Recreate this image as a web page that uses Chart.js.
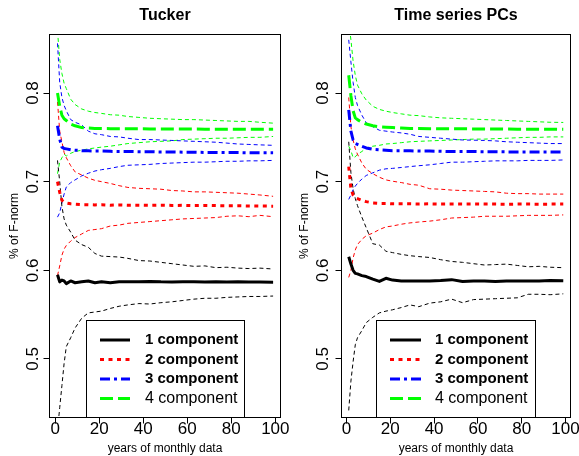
<!DOCTYPE html>
<html lang="en">

<head>
    <meta charset="UTF-8">
    <title>Tucker vs Time series PCs</title>
    <script src="https://cdn.jsdelivr.net/npm/chart.js"></script>
    <style>
        body { margin: 0; background: #fff; width: 579px; height: 456px; overflow: hidden; display: flex; }
        canvas { display: block; }
    </style>
</head>

<body>
    <canvas id="tuckerChart" width="290" height="456"></canvas>
    <canvas id="pcsChart" width="289" height="456"></canvas>

    <script>
        // years of monthly data used on the x axis
        const years = [1, 2, 3, 4, 5, 7, 9, 12, 15, 18, 21, 25, 29, 33, 38, 43, 48, 53, 58, 63, 68, 73, 78, 83, 88, 93, 99];
        const xTicks = [0, 20, 40, 60, 80, 100];
        const yTicks = [0.5, 0.6, 0.7, 0.8];
        const componentLabels = ['1 component', '2 component', '3 component', '4 component'];

        // Tucker panel: mean and upper / lower bands per number of components
        const tuckerMean1 = [0.595, 0.587, 0.589, 0.588, 0.585, 0.588, 0.586, 0.587, 0.588, 0.586, 0.587, 0.586, 0.587, 0.587, 0.587, 0.5875, 0.587, 0.5868, 0.587, 0.5872, 0.5868, 0.587, 0.5868, 0.587, 0.5868, 0.5867, 0.5865];
        const tuckerUp1 = [0.724, 0.700, 0.672, 0.658, 0.651, 0.643, 0.634, 0.629, 0.626, 0.619, 0.616, 0.6155, 0.615, 0.6135, 0.611, 0.6105, 0.609, 0.6075, 0.606, 0.6045, 0.605, 0.603, 0.6035, 0.6025, 0.602, 0.6025, 0.6015];
        const tuckerLo1 = [0.42, 0.445, 0.47, 0.495, 0.514, 0.524, 0.535, 0.546, 0.552, 0.553, 0.554, 0.557, 0.5595, 0.561, 0.5625, 0.562, 0.5635, 0.5645, 0.566, 0.5675, 0.5685, 0.5685, 0.5695, 0.570, 0.5705, 0.5705, 0.571];

        const tuckerMean2 = [0.700, 0.688, 0.679, 0.677, 0.676, 0.675, 0.6745, 0.674, 0.674, 0.6738, 0.674, 0.6735, 0.6738, 0.6735, 0.6735, 0.6733, 0.6735, 0.6732, 0.6733, 0.673, 0.6732, 0.673, 0.6728, 0.6728, 0.6726, 0.6725, 0.6724];
        const tuckerUp2 = [0.790, 0.757, 0.745, 0.733, 0.727, 0.718, 0.711, 0.7075, 0.704, 0.7015, 0.700, 0.698, 0.6955, 0.6935, 0.6925, 0.692, 0.6915, 0.690, 0.6895, 0.6885, 0.6885, 0.688, 0.6875, 0.687, 0.686, 0.685, 0.6835];
        const tuckerLo2 = [0.594, 0.605, 0.617, 0.624, 0.628, 0.633, 0.637, 0.641, 0.645, 0.646, 0.647, 0.650, 0.651, 0.653, 0.654, 0.655, 0.656, 0.657, 0.658, 0.6585, 0.659, 0.6595, 0.661, 0.6615, 0.6605, 0.662, 0.6605];

        const tuckerMean3 = [0.763, 0.748, 0.739, 0.7375, 0.737, 0.736, 0.7355, 0.735, 0.7348, 0.7345, 0.7345, 0.7342, 0.734, 0.734, 0.7338, 0.7338, 0.7335, 0.7335, 0.7333, 0.7333, 0.733, 0.733, 0.7328, 0.7328, 0.7326, 0.7325, 0.7325];
        const tuckerUp3 = [0.856, 0.812, 0.795, 0.786, 0.780, 0.770, 0.767, 0.764, 0.757, 0.754, 0.753, 0.751, 0.7505, 0.749, 0.7475, 0.7475, 0.747, 0.7465, 0.746, 0.7455, 0.745, 0.7445, 0.7435, 0.7425, 0.742, 0.7415, 0.741];
        const tuckerLo3 = [0.660, 0.665, 0.676, 0.686, 0.694, 0.699, 0.702, 0.7065, 0.7095, 0.712, 0.7135, 0.715, 0.717, 0.7185, 0.719, 0.7195, 0.7205, 0.721, 0.7215, 0.722, 0.722, 0.7225, 0.723, 0.723, 0.7235, 0.7235, 0.724];

        const tuckerMean4 = [0.800, 0.785, 0.775, 0.771, 0.769, 0.765, 0.763, 0.761, 0.7605, 0.760, 0.760, 0.7598, 0.7597, 0.7597, 0.7596, 0.7595, 0.7595, 0.7594, 0.7593, 0.7593, 0.7592, 0.7592, 0.7591, 0.7591, 0.759, 0.759, 0.759];
        const tuckerUp4 = [0.870, 0.838, 0.822, 0.811, 0.805, 0.793, 0.787, 0.782, 0.7795, 0.778, 0.777, 0.7755, 0.775, 0.7735, 0.7725, 0.7715, 0.771, 0.7705, 0.770, 0.770, 0.7695, 0.769, 0.7685, 0.768, 0.768, 0.767, 0.766];
        const tuckerLo4 = [0.709, 0.722, 0.727, 0.731, 0.729, 0.732, 0.734, 0.7355, 0.737, 0.738, 0.739, 0.740, 0.7415, 0.743, 0.744, 0.745, 0.7455, 0.746, 0.7475, 0.748, 0.7485, 0.749, 0.749, 0.7495, 0.750, 0.750, 0.751];

        // Time series PCs panel
        const pcsMean1 = [0.6153, 0.607, 0.600, 0.5966, 0.596, 0.594, 0.593, 0.590, 0.5875, 0.591, 0.589, 0.588, 0.588, 0.588, 0.588, 0.5885, 0.5895, 0.5875, 0.588, 0.588, 0.5875, 0.588, 0.588, 0.588, 0.588, 0.5885, 0.5883];
        const pcsUp1 = [0.745, 0.710, 0.692, 0.681, 0.673, 0.660, 0.648, 0.630, 0.6285, 0.6215, 0.620, 0.618, 0.6165, 0.6155, 0.6145, 0.612, 0.610, 0.609, 0.6075, 0.606, 0.6065, 0.607, 0.6055, 0.604, 0.6045, 0.6035, 0.603];
        const pcsLo1 = [0.442, 0.475, 0.497, 0.516, 0.524, 0.532, 0.541, 0.547, 0.552, 0.554, 0.5555, 0.558, 0.561, 0.559, 0.563, 0.5645, 0.5675, 0.5635, 0.567, 0.5675, 0.568, 0.5685, 0.569, 0.573, 0.573, 0.5725, 0.5735];

        const pcsMean2 = [0.717, 0.692, 0.685, 0.682, 0.681, 0.679, 0.6775, 0.676, 0.6755, 0.6755, 0.675, 0.675, 0.675, 0.6748, 0.675, 0.6748, 0.6748, 0.6747, 0.6748, 0.6747, 0.6747, 0.6746, 0.6747, 0.6747, 0.6746, 0.6747, 0.6747];
        const pcsUp2 = [0.795, 0.762, 0.747, 0.737, 0.731, 0.721, 0.714, 0.709, 0.705, 0.702, 0.7005, 0.699, 0.697, 0.696, 0.692, 0.6915, 0.6905, 0.690, 0.6895, 0.689, 0.6885, 0.687, 0.6865, 0.6865, 0.686, 0.686, 0.686];
        const pcsLo2 = [0.592, 0.600, 0.614, 0.623, 0.629, 0.635, 0.639, 0.642, 0.646, 0.649, 0.650, 0.652, 0.6535, 0.6545, 0.6555, 0.657, 0.659, 0.6595, 0.660, 0.661, 0.661, 0.661, 0.6615, 0.662, 0.662, 0.662, 0.6625];

        const pcsMean3 = [0.781, 0.757, 0.747, 0.743, 0.742, 0.740, 0.738, 0.7365, 0.736, 0.7355, 0.735, 0.735, 0.7348, 0.7345, 0.7345, 0.7343, 0.734, 0.734, 0.734, 0.7338, 0.7338, 0.7336, 0.7335, 0.7336, 0.7335, 0.7336, 0.7335];
        const pcsUp3 = [0.860, 0.835, 0.812, 0.795, 0.786, 0.775, 0.7665, 0.762, 0.758, 0.757, 0.756, 0.755, 0.7535, 0.751, 0.750, 0.749, 0.748, 0.747, 0.7468, 0.7465, 0.746, 0.745, 0.7445, 0.744, 0.7435, 0.743, 0.743];
        const pcsLo3 = [0.680, 0.685, 0.691, 0.695, 0.698, 0.703, 0.707, 0.710, 0.713, 0.7145, 0.715, 0.716, 0.717, 0.718, 0.719, 0.7205, 0.722, 0.722, 0.7225, 0.723, 0.7235, 0.7235, 0.7235, 0.724, 0.724, 0.724, 0.7245];

        const pcsMean4 = [0.820, 0.797, 0.780, 0.772, 0.770, 0.767, 0.765, 0.763, 0.762, 0.7615, 0.761, 0.7605, 0.760, 0.760, 0.7598, 0.7597, 0.7597, 0.7596, 0.7595, 0.7595, 0.7594, 0.7593, 0.7592, 0.7592, 0.7591, 0.7591, 0.759];
        const pcsUp4 = [0.880, 0.860, 0.836, 0.820, 0.809, 0.799, 0.792, 0.785, 0.7815, 0.7795, 0.778, 0.7765, 0.775, 0.7745, 0.773, 0.772, 0.7715, 0.771, 0.7705, 0.770, 0.7695, 0.769, 0.7685, 0.768, 0.7675, 0.767, 0.7668];
        const pcsLo4 = [0.740, 0.735, 0.727, 0.728, 0.731, 0.734, 0.738, 0.740, 0.741, 0.7425, 0.743, 0.744, 0.745, 0.7455, 0.746, 0.7465, 0.747, 0.7475, 0.748, 0.748, 0.7485, 0.749, 0.7495, 0.750, 0.750, 0.7505, 0.7505];

        // styles
        const FONT = '"Liberation Sans", Arial, Helvetica, sans-serif';
        const colors = ['#000000', '#ff0000', '#0000ff', '#00ff00'];
        const meanDash = [[], [4, 4.5], [10, 4, 3, 4], [13, 5]];
        const bandDash = [4, 3];

        function makeDatasets(means, ups, los) {
            const pts = arr => years.map((x, i) => ({ x: x, y: arr[i] }));
            const common = { pointRadius: 0, tension: 0, fill: false, clip: 0, borderCapStyle: 'butt', borderJoinStyle: 'round' };
            const ds = [];
            // thick mean lines first so they end up on top
            means.forEach((m, k) => ds.push({ ...common, label: componentLabels[k], data: pts(m), borderColor: colors[k], borderWidth: 3, borderDash: meanDash[k] }));
            ups.forEach((u, k) => ds.push({ ...common, data: pts(u), borderColor: colors[k], borderWidth: 1, borderDash: bandDash }));
            los.forEach((l, k) => ds.push({ ...common, data: pts(l), borderColor: colors[k], borderWidth: 1, borderDash: bandDash }));
            return ds;
        }

        // draws the box, panel title, rotated y tick labels and the legend
        const panelDecor = {
            id: 'panelDecor',
            afterDraw(chart, args, opts) {
                const { ctx, chartArea: a, scales: { y } } = chart;
                ctx.save();
                ctx.strokeStyle = '#000';
                ctx.lineWidth = 1;
                ctx.setLineDash([]);
                ctx.strokeRect(a.left, a.top, a.right - a.left, a.bottom - a.top);

                ctx.fillStyle = '#000';
                ctx.font = 'bold 16px ' + FONT;
                ctx.textAlign = 'center';
                ctx.textBaseline = 'alphabetic';
                ctx.fillText(opts.title, (a.left + a.right) / 2, 20);

                ctx.font = '17px ' + FONT;
                ctx.textBaseline = 'middle';
                y.ticks.forEach(t => {
                    ctx.save();
                    ctx.translate(opts.yLabelX, y.getPixelForValue(t.value));
                    ctx.rotate(-Math.PI / 2);
                    ctx.fillText(t.value.toFixed(1), 0, 0);
                    ctx.restore();
                });

                // legend
                const L = opts.legend;
                ctx.fillStyle = '#fff';
                ctx.fillRect(L.left, L.top, L.right - L.left, a.bottom - L.top);
                ctx.strokeRect(L.left, L.top, L.right - L.left, a.bottom - L.top);
                componentLabels.forEach((label, k) => {
                    const ry = L.firstRow + k * L.rowGap;
                    ctx.beginPath();
                    ctx.strokeStyle = colors[k];
                    ctx.lineWidth = 3;
                    ctx.setLineDash(meanDash[k]);
                    ctx.moveTo(L.lineX0, ry);
                    ctx.lineTo(L.lineX1, ry);
                    ctx.stroke();
                    ctx.setLineDash([]);
                    ctx.fillStyle = '#000';
                    ctx.font = (k < 3 ? 'bold 15px ' : '16px ') + FONT;
                    ctx.textAlign = 'left';
                    ctx.textBaseline = 'middle';
                    ctx.fillText(label, L.textX, ry);
                });
                ctx.restore();
            }
        };

        function makeChart(id, title, area, xRange, datasets, decor) {
            const canvas = document.getElementById(id);
            const H = canvas.height;
            return new Chart(canvas, {
                type: 'line',
                data: { datasets: datasets },
                options: {
                    responsive: false,
                    animation: false,
                    devicePixelRatio: 1,
                    layout: { padding: { left: 0, top: area.top, right: canvas.width - area.right, bottom: 0 } },
                    plugins: {
                        legend: { display: false },
                        tooltip: { enabled: false },
                        panelDecor: { title: title, ...decor }
                    },
                    scales: {
                        x: {
                            type: 'linear',
                            min: xRange[0],
                            max: xRange[1],
                            afterBuildTicks: s => { s.ticks = xTicks.map(v => ({ value: v })); },
                            afterFit: s => { s.height = H - area.bottom; s.paddingLeft = 0; s.paddingRight = 0; },
                            border: { display: false },
                            grid: { drawOnChartArea: false, color: '#000', tickLength: 6 },
                            ticks: { color: '#000', font: { size: 17, family: FONT, lineHeight: 1 }, padding: -3, maxRotation: 0, autoSkip: false },
                            title: { display: true, text: 'years of monthly data', color: '#000', font: { size: 12, family: FONT }, padding: { top: 0, bottom: 0 } }
                        },
                        y: {
                            type: 'linear',
                            min: 0.434,
                            max: 0.866,
                            afterBuildTicks: s => { s.ticks = yTicks.map(v => ({ value: v })); },
                            afterFit: s => { s.width = area.left; s.paddingTop = 0; s.paddingBottom = 0; },
                            border: { display: false },
                            grid: { drawOnChartArea: false, color: '#000', tickLength: 6 },
                            ticks: { display: false },
                            title: { display: true, text: '% of F-norm', color: '#000', font: { size: 12, family: FONT }, padding: { top: 7, bottom: 0 } }
                        }
                    }
                },
                plugins: [panelDecor]
            });
        }

        makeChart('tuckerChart', 'Tucker',
            { left: 49.5, right: 280.5, top: 34.5, bottom: 417.5 }, [-2.64, 102.36],
            makeDatasets([tuckerMean1, tuckerMean2, tuckerMean3, tuckerMean4],
                [tuckerUp1, tuckerUp2, tuckerUp3, tuckerUp4],
                [tuckerLo1, tuckerLo2, tuckerLo3, tuckerLo4]),
            { yLabelX: 33.5, legend: { left: 86.5, right: 244.5, top: 320.5, firstRow: 340, rowGap: 19.5, lineX0: 100, lineX1: 130, textX: 145 } });

        makeChart('pcsChart', 'Time series PCs',
            { left: 51.5, right: 280.5, top: 34.5, bottom: 417.5 }, [-2.3, 102.3],
            makeDatasets([pcsMean1, pcsMean2, pcsMean3, pcsMean4],
                [pcsUp1, pcsUp2, pcsUp3, pcsUp4],
                [pcsLo1, pcsLo2, pcsLo3, pcsLo4]),
            { yLabelX: 33.5, legend: { left: 86.5, right: 245.5, top: 320.5, firstRow: 340, rowGap: 19.5, lineX0: 100, lineX1: 131, textX: 145 } });
    </script>
</body>

</html>
